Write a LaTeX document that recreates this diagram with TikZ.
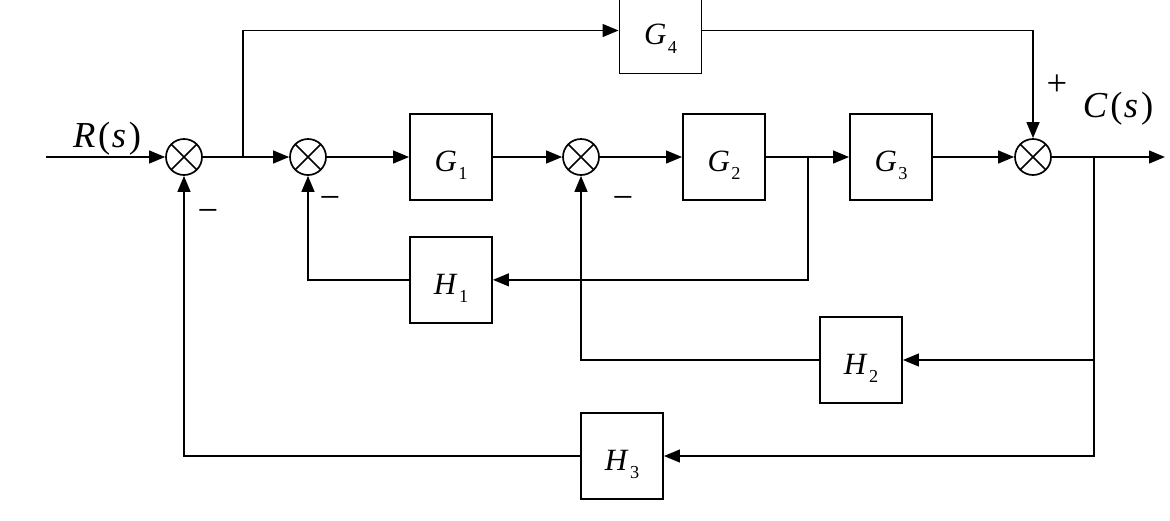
\documentclass[tikz,border=0pt]{standalone}
\usepackage{fontspec}
\setmainfont{Liberation Serif}
\usetikzlibrary{arrows.meta, positioning}
\newcommand{\tfn}[2]{\raisebox{-6pt}{\textit{#1}\kern1pt\raisebox{-6pt}{\fontsize{13}{14}\selectfont #2}}}

\begin{document}
\begin{tikzpicture}[
  x=0.025cm, y=-0.025cm,
  block/.style={rectangle, draw, line width=1.3pt, minimum width=2.05cm, minimum height=2.15cm, inner sep=0pt, text depth=0pt, font=\fontsize{22}{24}\selectfont},
  sumj/.style={circle, draw, line width=1.2pt, minimum size=0.9cm, inner sep=0pt,
    path picture={\draw[line width=1.1pt] (path picture bounding box.north west) -- (path picture bounding box.south east)
      (path picture bounding box.north east) -- (path picture bounding box.south west);}},
  arrow/.style={-{Triangle[length=0.4cm, width=0.32cm]}, line width=1.3pt},
  line/.style={line width=1.3pt},
  sign/.style={inner sep=0pt, font=\fontsize{26}{28}\selectfont},
  lbl/.style={inner sep=0pt, font=\fontsize{26}{28}\selectfont}
]
\useasboundingbox (0,0) rectangle (1170,520);
\clip (0,0) rectangle (1170,520);

% forward path
\node[sumj] (s1) at (184,157) {};
\node[sumj] (s2) at (308,157) {};
\node[block] (g1) at (451,157) {\tfn{G}{1}};
\node[sumj] (s3) at (581,157) {};
\node[block] (g2) at (724,157) {\tfn{G}{2}};
\node[block] (g3) at (891,157) {\tfn{G}{3}};
\node[sumj] (s4) at (1033,157) {};
\node[block] (g4) at (660.5,30.5) {\tfn{G}{4}};

% feedback blocks
\node[block, below=0.875cm of g1] (h1) {\tfn{H}{1}};
\node[block] (h2) at (861,360) {\tfn{H}{2}};
\node[block] (h3) at (622,456) {\tfn{H}{3}};

% branch points
\coordinate (in) at (46,157);
\coordinate (b1) at (243,157);
\coordinate (b2) at (808,157);
\coordinate (b3) at (1094,157);
\coordinate (out) at (1165,157);

% labels and signs
\node[lbl] (rs) at (107,139) {\textit{R}\kern2pt(\kern1pt\textit{s}\kern2pt)};
\node[lbl] (cs) at (1118,109) {\textit{C}\kern2pt(\kern1pt\textit{s}\kern2pt)};
\node[sign] (m1) at (208,216) {−};
\node[sign] (m2) at (330,203) {−};
\node[sign] (m3) at (623,203) {−};
\node[sign] (p4) at (1057,85) {+};

\draw[arrow] (in) -- (s1);
\draw[line] (s1) -- (b1);
\draw[arrow] (b1) -- (s2);
\draw[arrow] (s2) -- (g1);
\draw[arrow] (g1) -- (s3);
\draw[arrow] (s3) -- (g2);
\draw[arrow] (g2) -- (g3);
\draw[arrow] (g3) -- (s4);
\draw[arrow] (s4) -- (out);
\draw[arrow] (b1) |- (g4);
\draw[arrow] (g4) -| (s4);
\draw[arrow] (b2) |- (h1);
\draw[arrow] (h1) -| (s2);
\draw[arrow] (b3) |- (h2);
\draw[arrow] (h2) -| (s3);
\draw[arrow] (b3) |- (h3);
\draw[arrow] (h3) -| (s1);
\end{tikzpicture}
\end{document}
